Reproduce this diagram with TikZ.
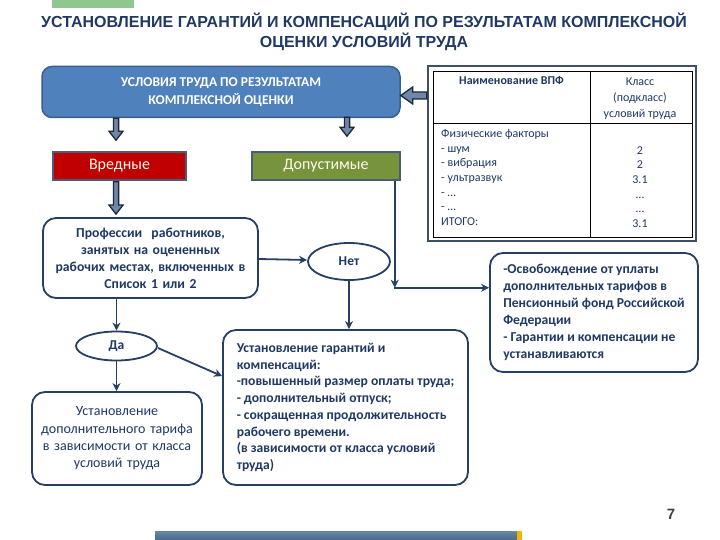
\documentclass[tikz,border=0pt]{standalone}
\usepackage{fontspec}
\setmainfont{Carlito}
\newfontfamily\titlefont{Liberation Sans}
\usetikzlibrary{calc,arrows.meta,shapes.geometric}
\definecolor{navy}{HTML}{1F3864}
\definecolor{lineblue}{HTML}{263F62}
\definecolor{boxblue}{HTML}{4F81BD}
\definecolor{boxblueedge}{HTML}{3A5F8C}
\definecolor{darkred}{HTML}{C00000}
\definecolor{olive}{HTML}{77933C}
\definecolor{edgegrey}{HTML}{4A5D75}
\definecolor{arrfill}{HTML}{6F86A8}
\definecolor{arredge}{HTML}{1B2838}
\definecolor{topgreen}{HTML}{8FC78F}
\definecolor{barblue}{HTML}{46698C}
\definecolor{barorange}{HTML}{F2B600}
\definecolor{pagegrey}{HTML}{404040}
\definecolor{tabedge}{HTML}{3E5066}
\newcommand\blockarr[5]{%
  \coordinate (bas) at (#1);
  \coordinate (bae) at (#2);
  \coordinate (bah) at ($(bae)!#5!(bas)$);
  \draw[blockarrow] ($(bas)!#3!90:(bae)$) -- ($(bah)!#3!-90:(bas)$) -- ($(bah)!#4!-90:(bas)$) -- (bae) -- ($(bah)!#4!90:(bas)$) -- ($(bah)!#3!90:(bas)$) -- ($(bas)!#3!-90:(bae)$) -- cycle;
}
\begin{document}
\begin{tikzpicture}[x=1pt,y=-1pt,
  blockarrow/.style={fill=arrfill,draw=arredge,line width=1.3pt,line join=miter},
  wbox/.style={draw=lineblue,line width=1.8pt,fill=white,rounded corners=13pt,text=navy,inner sep=0pt},
  boldtxt/.style={font=\bfseries\fontsize{13.7}{17}\selectfont},
  oval/.style={ellipse,draw=lineblue,line width=1.8pt,fill=white,text=navy,inner sep=0pt,font=\bfseries\fontsize{13.5}{16}\selectfont},
  conn/.style={draw=lineblue,line width=1.8pt,-{Stealth[length=8pt,width=8pt,inset=2.5pt]}},
  catbox/.style={draw=edgegrey,line width=1.5pt,inner sep=0pt,text=white!92!yellow,font=\fontsize{16}{18}\selectfont},
  tabtxt/.style={text=navy,inner sep=0pt,font=\fontsize{12}{14.7}\selectfont}]
\useasboundingbox (0,0) rectangle (720,540);
% decorations
\fill[topgreen] (52,0) rectangle (134,8);
\shade[top color=barblue!80!white,bottom color=barblue] (155,531) rectangle (517,540);
\fill[barorange] (517,531) rectangle (522,540);
% title
\node[text=navy,align=center,font=\titlefont\bfseries\fontsize{16}{20}\selectfont] (title) at (364,32)
  {УСТАНОВЛЕНИЕ ГАРАНТИЙ И КОМПЕНСАЦИЙ ПО РЕЗУЛЬТАТАМ КОМПЛЕКСНОЙ\\ОЦЕНКИ УСЛОВИЙ ТРУДА};
% main blue box
\node[draw=boxblueedge,fill=boxblue,line width=1.5pt,rounded corners=10pt,minimum width=358pt,minimum height=51pt,
  text=white,align=center,font=\bfseries\fontsize{13.5}{18}\selectfont] (top) at (221,92)
  {УСЛОВИЯ ТРУДА ПО РЕЗУЛЬТАТАМ\\КОМПЛЕКСНОЙ ОЦЕНКИ};
% categories
\node[catbox,fill=darkred,minimum width=133pt,minimum height=28pt] (vred) at (119.5,166) {Вредные};
\node[catbox,fill=olive,minimum width=148pt,minimum height=28pt] (dop) at (326,166) {Допустимые};
% table
\node[draw=tabedge,line width=2.5pt,minimum width=268pt,minimum height=175pt,inner sep=0pt] (tbl) at (562,153.5) {};
\draw[black,line width=0.8pt] (433,71) rectangle (692,237);
\draw[black,line width=0.8pt] (590,71) -- (590,237);
\draw[black,line width=0.8pt] (433,123) -- (692,123);
\node[tabtxt,font=\bfseries\fontsize{12}{14.7}\selectfont] (th1) at (511.5,80) {Наименование ВПФ};
\node[tabtxt,align=center,font=\fontsize{12}{16}\selectfont,anchor=north] (th2) at (640,77.5) {Класс\\(подкласс)\\условий труда};
\node[tabtxt,align=left,anchor=north west] (tl) at (441,129)
  {Физические факторы\\- шум\\- вибрация\\- ультразвук\\- …\\- …\\ИТОГО:};
\node[tabtxt,align=center,anchor=north] (tr) at (640,129)
  {\strut\\2\\2\\3.1\\…\\…\\3.1};
% white boxes
\node[wbox,boldtxt,align=center,minimum width=215pt,minimum height=80pt,text width=209pt] (prof) at (150.5,258)
  {Профессии\ \ работников,\\занятых на оцененных\\рабочих местах, включенных в\\Список 1 или 2};
\node[oval,minimum width=82pt,minimum height=37pt] (net) at (349,261.5) {Нет};
\node[oval,minimum width=81pt,minimum height=29pt] (da) at (116.5,346) {Да};
\node[wbox,align=center,minimum width=170pt,minimum height=93pt,text width=166pt,font=\fontsize{14}{17.3}\selectfont] (tarif) at (117,438.5)
  {Установление\\дополнительного тарифа\\в зависимости от класса\\условий труда};
\node[wbox,align=left,minimum width=245pt,minimum height=155pt,font=\bfseries\fontsize{13.6}{16.7}\selectfont] (big) at (345.5,407.5)
  {Установление гарантий и\\компенсаций:\\-повышенный размер оплаты труда;\\- дополнительный отпуск;\\- сокращенная продолжительность\\рабочего времени.\\(в зависимости от класса условий\\труда)};
\node[wbox,align=left,minimum width=208pt,minimum height=119pt,font=\bfseries\fontsize{13.6}{17}\selectfont] (osv) at (594,312.5)
  {-Освобождение от уплаты\\дополнительных тарифов в\\Пенсионный фонд Российской\\Федерации\\- Гарантии и компенсации не\\устанавливаются};
% page number
\node[text=pagegrey,font=\titlefont\bfseries\fontsize{15}{15}\selectfont] (pnum) at (671,514) {7};
% block arrows
\blockarr{$(vred.north |- top.south)+(-3.5,0)$}{$(vred.north)+(-3.5,-11)$}{2.6pt}{7pt}{9pt}
\blockarr{$(dop.north)+(21,-34)$}{$(dop.north)+(21,-15)$}{2.6pt}{7pt}{9pt}
\blockarr{$(vred.south)+(-3.5,1)$}{$(prof.north)+(-34.5,-3)$}{2.6pt}{7pt}{9pt}
\blockarr{$(tbl.west)+(0,-58)$}{$(top.east)+(0,3.5)$}{3.5pt}{8.5pt}{12pt}
% connectors
\coordinate (corner) at ($(dop.south east)+(-6,107)$);
\draw[conn] ($(dop.south east)+(-6,0)$) -- (corner);
\draw[conn,shorten <=-0.9pt] (corner) -- (corner -| osv.west);
\draw[conn] ($(prof.east)+(0,1)$) -- ($(net.west)+(0,-1.5)$);
\draw[conn] (da.north |- prof.south) -- (da.north);
\draw[conn] (da.south) -- (da.south |- tarif.north);
\draw[conn] (net.south) -- (net.south |- big.north);
\draw[conn] ($(da.east)+(0,2)$) -- ($(big.north west)+(0,47)$);
\end{tikzpicture}
\end{document}
